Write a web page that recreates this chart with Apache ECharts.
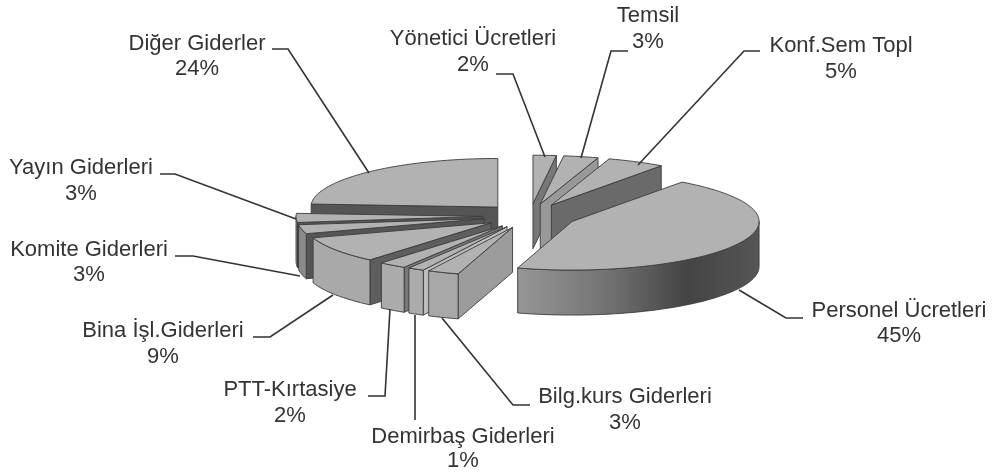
<!DOCTYPE html>
<html>
<head>
<meta charset="utf-8">
<style>
  html, body { margin: 0; padding: 0; background: #fff; }
  #chart { width: 994px; height: 476px; filter: blur(0.45px); }
</style>
<script src="https://cdn.jsdelivr.net/npm/echarts@6/dist/echarts.min.js"></script>
</head>
<body>
<div id="chart"></div>
<script>
// pie data, clockwise from 12 o'clock
var categories = ['Yönetici Ücretleri', 'Temsil', 'Konf.Sem Topl', 'Personel Ücretleri', 'Bilg.kurs Giderleri',
  'Demirbaş Giderleri', 'PTT-Kırtasiye', 'Bina İşl.Giderleri', 'Komite Giderleri', 'Yayın Giderleri', 'Diğer Giderler'];
// labels show whole percents, slice widths
var values = [2, 3, 5, 44.7, 2.7, 1.4, 2.4, 8.8, 3, 3, 24];

// far slices first, so nearer ones paint over them
var paintOrder = [10, 9, 8, 7, 6, 5, 4, 0, 1, 2, 3];

// colours per slice
var sideColors = ['#777777', '#989898', '#6a6a6a', '#555555', '#9c9c9c', '#bdbdbd', '#777777', '#5e5e5e', '#555555', '#555555', '#555555'];
var rimColors = ['#999999', '#999999', '#999999', null, '#a8a8a8', '#ababab', '#ababab', '#a9a9a9', '#8a8a8a', '#8a8a8a', '#8a8a8a'];
var topColor = '#b2b2b2';
var lineColor = '#3c3c3c';

// label centres [x, first line y, second line y] and leader lines
var labelPos = [[473, 39, 65], [648, 16, 42], [841, 46, 72], [899, 311, 336], [625, 397, 423],
  [463, 437, 461], [290, 390, 416], [163, 331, 357], [89, 250, 275], [81, 168, 194], [197, 44, 69]];
var leaders = [
  [[496, 74], [513, 74], [545, 157]],
  [[628, 51], [611, 51], [581, 158]],
  [[760, 51], [744, 51], [638, 165]],
  [[739, 290], [786, 318], [803, 318]],
  [[442, 318], [513, 405], [530, 405]],
  [[415, 315], [415, 420]],
  [[390, 309], [385, 396], [368, 396]],
  [[333, 295], [270, 337], [253, 337]],
  [[300, 276], [193, 256], [175, 256]],
  [[296, 219], [175, 174], [160, 174]],
  [[369, 173], [288, 49], [272, 49]]
];

var cx = 530, cy = 216;      // pie centre
var radius = 187, tilt = 0.26, depth = 45, explode = 47;

var total = values.reduce(function (a, b) { return a + b; }, 0);
var starts = [];
var run = 0;
values.forEach(function (v) { starts.push(run / total * 360); run += v; });

function rad(d) { return d * Math.PI / 180; }

function buildSlice(i) {
  var a0 = starts[i];
  var a1 = a0 + values[i] / total * 360;
  var mid = rad((a0 + a1) / 2);
  var ox = cx + explode * Math.sin(mid);
  var oy = cy - explode * Math.cos(mid) * tilt;
  function rimPt(a, dz) {
    return [ox + radius * Math.sin(rad(a)), oy - radius * Math.cos(rad(a)) * tilt + (dz || 0)];
  }
  function arc(from, to, dz) {
    var pts = [];
    var n = Math.max(2, Math.ceil((to - from) / 2));
    for (var k = 0; k <= n; k++) pts.push(rimPt(from + (to - from) * k / n, dz));
    return pts;
  }
  var edge = { stroke: lineColor, lineWidth: 0.9 };
  var kids = [];

  function wall(a, color) {
    kids.push({
      type: 'polygon',
      shape: { points: [[ox, oy], rimPt(a), rimPt(a, depth), [ox, oy + depth]] },
      style: Object.assign({ fill: color }, edge)
    });
  }
  // a radial wall only shows when it faces the viewer
  if (Math.sin(rad(a0)) < -0.001) wall(a0, sideColors[i]);
  if (Math.sin(rad(a1)) > 0.001) wall(a1, sideColors[i]);

  var r0 = Math.max(a0, 90), r1 = Math.min(a1, 270);
  if (r1 > r0) {
    var pts = arc(r0, r1, 0).concat(arc(r0, r1, depth).reverse());
    var fill = rimColors[i];
    if (!fill) {
      fill = new echarts.graphic.LinearGradient(1, 0, 0, 0, [
        { offset: 0, color: '#565656' },
        { offset: 0.3, color: '#444444' },
        { offset: 0.65, color: '#757575' },
        { offset: 1, color: '#969696' }
      ]);
    }
    kids.push({ type: 'polygon', shape: { points: pts }, style: Object.assign({ fill: fill }, edge) });
  }
  kids.push({
    type: 'polygon',
    shape: { points: [[ox, oy]].concat(arc(a0, a1, 0)) },
    style: Object.assign({ fill: topColor }, edge)
  });
  return { type: 'group', children: kids };
}

function buildLabel(i) {
  var p = labelPos[i];
  var font = { fill: '#333333', fontSize: 22, fontFamily: 'Liberation Sans', align: 'center', verticalAlign: 'middle' };
  return {
    type: 'group',
    children: [
      { type: 'polyline', shape: { points: leaders[i] }, style: { fill: null, stroke: '#333333', lineWidth: 1.6 } },
      { type: 'text', x: p[0], y: p[1], style: Object.assign({ text: categories[i] }, font) },
      { type: 'text', x: p[0], y: p[2], style: Object.assign({ text: Math.round(values[i]) + '%' }, font) }
    ]
  };
}

var chart = echarts.init(document.getElementById('chart'), null, { renderer: 'canvas' });
chart.setOption({
  animation: false,
  backgroundColor: '#ffffff',
  series: [
    {
      type: 'custom',
      coordinateSystem: 'none',
      data: paintOrder,
      renderItem: function (params, api) { return buildSlice(api.value(0)); }
    },
    {
      type: 'custom',
      coordinateSystem: 'none',
      data: paintOrder,
      renderItem: function (params, api) { return buildLabel(api.value(0)); }
    }
  ]
});
</script>
</body>
</html>
